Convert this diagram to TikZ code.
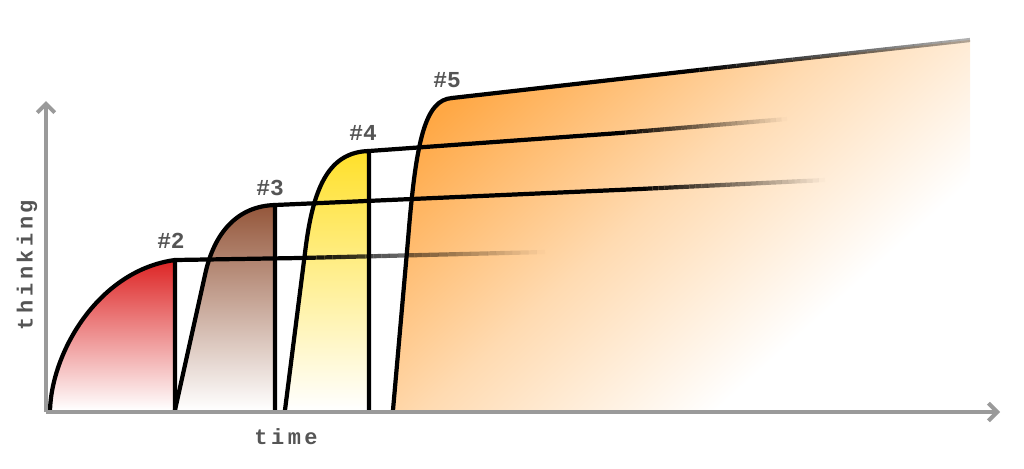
\documentclass[tikz,border=0pt]{standalone}
\usepackage{fontspec}
\usetikzlibrary{arrows.meta,calc}
\newfontfamily\axisfont[LetterSpace=16]{Liberation Mono}
\newfontfamily\labelfont{Liberation Mono}
\definecolor{axisgray}{HTML}{9A9A9A}
\definecolor{txtgray}{HTML}{555555}
\definecolor{cred}{HTML}{DD2424}
\definecolor{cbrown}{HTML}{94563A}
\definecolor{cyellow}{HTML}{FFE02A}
\definecolor{corange}{HTML}{FFA845}
\colorlet{corangemid}{corange!42!white}
\pgfdeclarehorizontalshading{orangefade}{100bp}{color(0bp)=(corange); color(35bp)=(corange); color(50bp)=(corangemid); color(64bp)=(white); color(100bp)=(white)}
\tikzset{
  outline/.style={draw=black, line width=2.4pt, line join=round, line cap=round},
  axisline/.style={draw=axisgray, line width=2.3pt, -{Straight Barb[length=5pt,width=10pt,line width=2.3pt]}},
  axislbl/.style={font=\axisfont\bfseries\fontsize{12.5}{14}\selectfont, text=txtgray, inner sep=0pt},
  numlbl/.style={font=\labelfont\bfseries\fontsize{13}{15}\selectfont, text=txtgray, inner sep=0pt},
}
\newcommand\fadeseg[3]{% from #1 to #2, opacity going from 1 to #3
  \foreach \i in {0,...,29}{%
    \pgfmathsetmacro\ta{\i/30}%
    \pgfmathsetmacro\tb{(\i+1)/30}%
    \pgfmathsetmacro\op{1-(1-#3)*(\i+0.5)/30}%
    \draw[line width=2.4pt, line cap=butt, opacity=\op] ($(#1)!\ta!(#2)$) -- ($(#1)!\tb!(#2)$);
  }}
\begin{document}
\begin{tikzpicture}[x=0.02cm, y=-0.02cm]
\useasboundingbox (0,0) rectangle (1024,468);

% key coordinates
\coordinate (O) at (46,412);
\coordinate (xend) at (1000,412);
\coordinate (yend) at (46,101);

\coordinate (s1) at (50,410);   \coordinate (t1) at (175,260);  \coordinate (b1) at (175,410);
\coordinate (s2) at (175,410);  \coordinate (a2) at (205,275);  \coordinate (t2) at (275,205); \coordinate (b2) at (275,410);
\coordinate (s3) at (285,410);  \coordinate (a3) at (306,245);  \coordinate (t3) at (369,151); \coordinate (b3) at (369,410);
\coordinate (s4) at (393,410);  \coordinate (a4) at (408,240);  \coordinate (t4) at (452,98);
\coordinate (e4) at (970,40);   \coordinate (f4) at (970,410);

% fade points of the continuing lines
\coordinate (m1) at (300,258);  \coordinate (n1) at (545,252);
\coordinate (m2) at (640,189);  \coordinate (n2) at (825,180);
\coordinate (m3) at (620,133);  \coordinate (n3) at (787,119);
\coordinate (m4) at (690,71);

% shape 5 fill
\begin{scope}
  \clip (s4) -- (a4) .. controls (416,140) and (425,100) .. (t4) -- (e4) -- (f4) -- cycle;
  \shade[shading=orangefade, shading angle=-48] (290,-135) rectangle (990,565);
\end{scope}

% shapes 1-3 fills
\shade[top color=cred, bottom color=white] (s1) .. controls (52,350) and (100,270) .. (t1) -- (b1) -- cycle;
\shade[top color=cbrown, bottom color=white] (s2) -- (a2) .. controls (214,232) and (238,206) .. (t2) -- (b2) -- cycle;
\shade[top color=cyellow, bottom color=white] (s3) -- (a3) .. controls (314,185) and (330,152) .. (t3) -- (b3) -- cycle;

% continuing lines
\draw[line width=2.4pt] (t1) -- (m1);
\fadeseg{m1}{n1}{0}
\draw[line width=2.4pt] (t2) -- (m2);
\fadeseg{m2}{n2}{0}
\draw[line width=2.4pt] (t3) -- (m3);
\fadeseg{m3}{n3}{0}
\draw[line width=2.4pt] (t4) -- (m4);
\fadeseg{m4}{e4}{0.3}

% outlines
\draw[outline] (s1) .. controls (52,350) and (100,270) .. (t1) -- (b1);
\draw[outline] (s2) -- (a2) .. controls (214,232) and (238,206) .. (t2) -- (b2);
\draw[outline] (s3) -- (a3) .. controls (314,185) and (330,152) .. (t3) -- (b3);
\draw[outline] (s4) -- (a4) .. controls (416,140) and (425,100) .. (t4);

% axes
\draw[axisline] (O) -- (xend);
\draw[axisline] (O) -- (yend);

% labels
\node[numlbl] (l2) at (171,241) {\#2};
\node[numlbl] (l3) at (270,188) {\#3};
\node[numlbl] (l4) at (363,133) {\#4};
\node[numlbl] (l5) at (447,80) {\#5};
\node[axislbl, rotate=90] (ylab) at (27,265) {thinking};
\node[axislbl] (xlab) at (286,437) {time};
\end{tikzpicture}
\end{document}
